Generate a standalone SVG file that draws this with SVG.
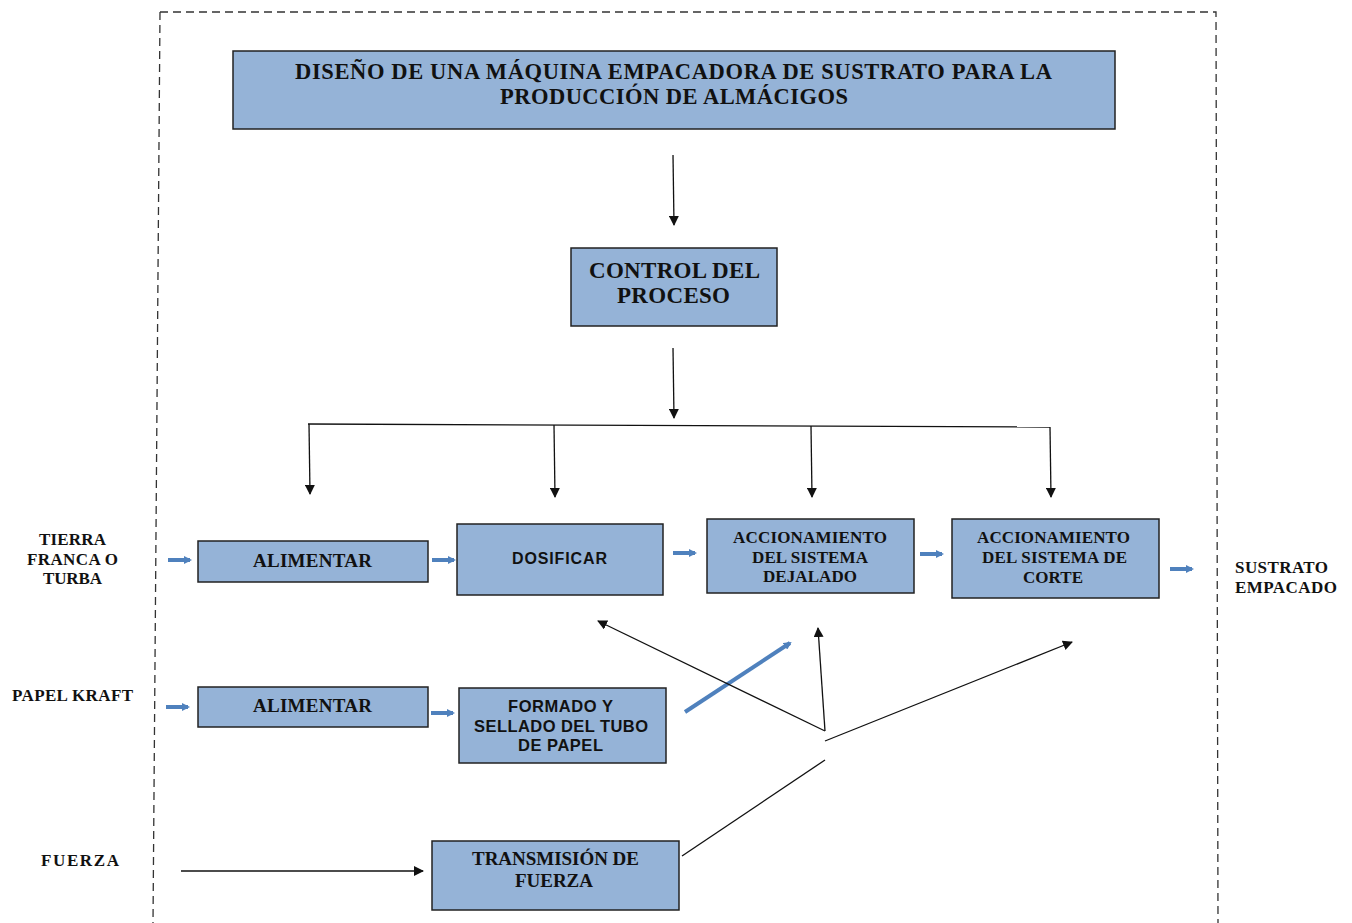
<svg xmlns="http://www.w3.org/2000/svg" width="1352" height="923" viewBox="0 0 1352 923">
<style>
.box{fill:#95B3D7;stroke:#222;stroke-width:1.5}
.t{font-family:"Liberation Serif","Times New Roman",serif;font-weight:bold;fill:#111}
.a{font-family:"Liberation Sans",Arial,sans-serif;font-weight:bold;fill:#111}
.ln{stroke:#111;stroke-width:1.3;fill:none}
.bl{stroke:#4F81BD;stroke-width:4;fill:none}
</style>
<defs>
<marker id="ah" markerWidth="10" markerHeight="10" refX="9" refY="5" orient="auto" markerUnits="userSpaceOnUse"><path d="M0,0 L10,5 L0,10 z" fill="#111"/></marker>
<marker id="bh" markerWidth="8" markerHeight="8" refX="6" refY="4" orient="auto" markerUnits="userSpaceOnUse"><path d="M0,0 L8,4 L0,8 z" fill="#4F81BD"/></marker>
</defs>
<path d="M160,12 L1216,12 L1218,923 M160,12 L153,923" fill="none" stroke="#333" stroke-width="1.3" stroke-dasharray="8,5"/>
<g id="connectors">
<line class="ln" x1="673" y1="155" x2="674" y2="225" marker-end="url(#ah)"/>
<line class="ln" x1="673" y1="348" x2="674" y2="418" marker-end="url(#ah)"/>
<line class="ln" x1="308" y1="424" x2="1050" y2="427" stroke="#555" stroke-width="1.8"/>
<line class="ln" x1="309" y1="424" x2="310" y2="494" marker-end="url(#ah)"/>
<line class="ln" x1="554" y1="425" x2="555" y2="497" marker-end="url(#ah)"/>
<line class="ln" x1="811" y1="426" x2="812" y2="497" marker-end="url(#ah)"/>
<line class="ln" x1="1050" y1="427" x2="1051" y2="497" marker-end="url(#ah)"/>
<line class="bl" x1="168" y1="560" x2="190" y2="560" marker-end="url(#bh)"/>
<line class="bl" x1="432" y1="560" x2="454" y2="560" marker-end="url(#bh)"/>
<line class="bl" x1="673" y1="553" x2="695" y2="553" marker-end="url(#bh)"/>
<line class="bl" x1="920" y1="554" x2="942" y2="554" marker-end="url(#bh)"/>
<line class="bl" x1="1170" y1="569" x2="1192" y2="569" marker-end="url(#bh)"/>
<line class="bl" x1="166" y1="707" x2="188" y2="707" marker-end="url(#bh)"/>
<line class="bl" x1="431" y1="713" x2="453" y2="713" marker-end="url(#bh)"/>
<line class="bl" x1="685" y1="712" x2="790" y2="643" marker-end="url(#bh)"/>
<line class="ln" x1="181" y1="871" x2="423" y2="871" marker-end="url(#ah)"/>
<line class="ln" x1="682" y1="856" x2="825" y2="760"/>
<line class="ln" x1="825" y1="741" x2="1072" y2="642" marker-end="url(#ah)"/>
<line class="ln" x1="825" y1="731" x2="598" y2="621" marker-end="url(#ah)"/>
<line class="ln" x1="825" y1="731" x2="818" y2="628" marker-end="url(#ah)"/>
</g>
<g id="title"><rect class="box" x="233" y="51" width="882" height="78"/>
<text class="t" font-size="22.5" x="295" y="79" textLength="757" lengthAdjust="spacing">DISEÑO DE UNA MÁQUINA EMPACADORA DE SUSTRATO PARA LA</text>
<text class="t" font-size="22.5" x="500" y="104" textLength="348" lengthAdjust="spacing">PRODUCCIÓN DE ALMÁCIGOS</text></g>
<g id="control"><rect class="box" x="571" y="248" width="206" height="78"/>
<text class="t" font-size="23" x="589" y="278" textLength="171" lengthAdjust="spacing">CONTROL DEL</text>
<text class="t" font-size="23" x="617" y="303" textLength="113" lengthAdjust="spacing">PROCESO</text></g>
<g id="alimentar1"><rect class="box" x="198" y="541" width="230" height="41"/>
<text class="t" font-size="19" x="253" y="567" textLength="119" lengthAdjust="spacing">ALIMENTAR</text></g>
<g id="dosificar"><rect class="box" x="457" y="524" width="206" height="71"/>
<text class="a" font-size="16" x="512" y="564" textLength="95" lengthAdjust="spacing">DOSIFICAR</text></g>
<g id="dejalado"><rect class="box" x="707" y="519" width="207" height="74"/>
<text class="t" font-size="17" x="733" y="543" textLength="154" lengthAdjust="spacing">ACCIONAMIENTO</text>
<text class="t" font-size="17" x="752" y="563" textLength="116" lengthAdjust="spacing">DEL SISTEMA</text>
<text class="t" font-size="17" x="763" y="582" textLength="94" lengthAdjust="spacing">DEJALADO</text></g>
<g id="corte"><rect class="box" x="952" y="519" width="207" height="79"/>
<text class="t" font-size="17" x="977" y="543" textLength="153" lengthAdjust="spacing">ACCIONAMIENTO</text>
<text class="t" font-size="17" x="982" y="563" textLength="145" lengthAdjust="spacing">DEL SISTEMA DE</text>
<text class="t" font-size="17" x="1023" y="583" textLength="60" lengthAdjust="spacing">CORTE</text></g>
<g id="alimentar2"><rect class="box" x="198" y="687" width="230" height="40"/>
<text class="t" font-size="19" x="253" y="712" textLength="119" lengthAdjust="spacing">ALIMENTAR</text></g>
<g id="formado"><rect class="box" x="459" y="688" width="207" height="75"/>
<text class="a" font-size="16.5" x="508" y="712" textLength="105" lengthAdjust="spacing">FORMADO Y</text>
<text class="a" font-size="16.5" x="474" y="732" textLength="174" lengthAdjust="spacing">SELLADO DEL TUBO</text>
<text class="a" font-size="16.5" x="518" y="751" textLength="85" lengthAdjust="spacing">DE PAPEL</text></g>
<g id="transmision"><rect class="box" x="432" y="841" width="247" height="69"/>
<text class="t" font-size="19" x="472" y="865" textLength="167" lengthAdjust="spacing">TRANSMISIÓN DE</text>
<text class="t" font-size="19" x="515" y="887" textLength="78" lengthAdjust="spacing">FUERZA</text></g>
<g id="labels">
<text class="t" font-size="17" x="39" y="545" textLength="67" lengthAdjust="spacing">TIERRA</text>
<text class="t" font-size="17" x="27" y="565" textLength="91" lengthAdjust="spacing">FRANCA O</text>
<text class="t" font-size="17" x="43" y="584" textLength="59" lengthAdjust="spacing">TURBA</text>
<text class="t" font-size="17" x="12" y="701" textLength="121" lengthAdjust="spacing">PAPEL KRAFT</text>
<text class="t" font-size="17" x="41" y="866" textLength="78" lengthAdjust="spacing">FUERZA</text>
<text class="t" font-size="17" x="1235" y="573" textLength="93" lengthAdjust="spacing">SUSTRATO</text>
<text class="t" font-size="17" x="1235" y="593" textLength="102" lengthAdjust="spacing">EMPACADO</text>
</g>
</svg>
